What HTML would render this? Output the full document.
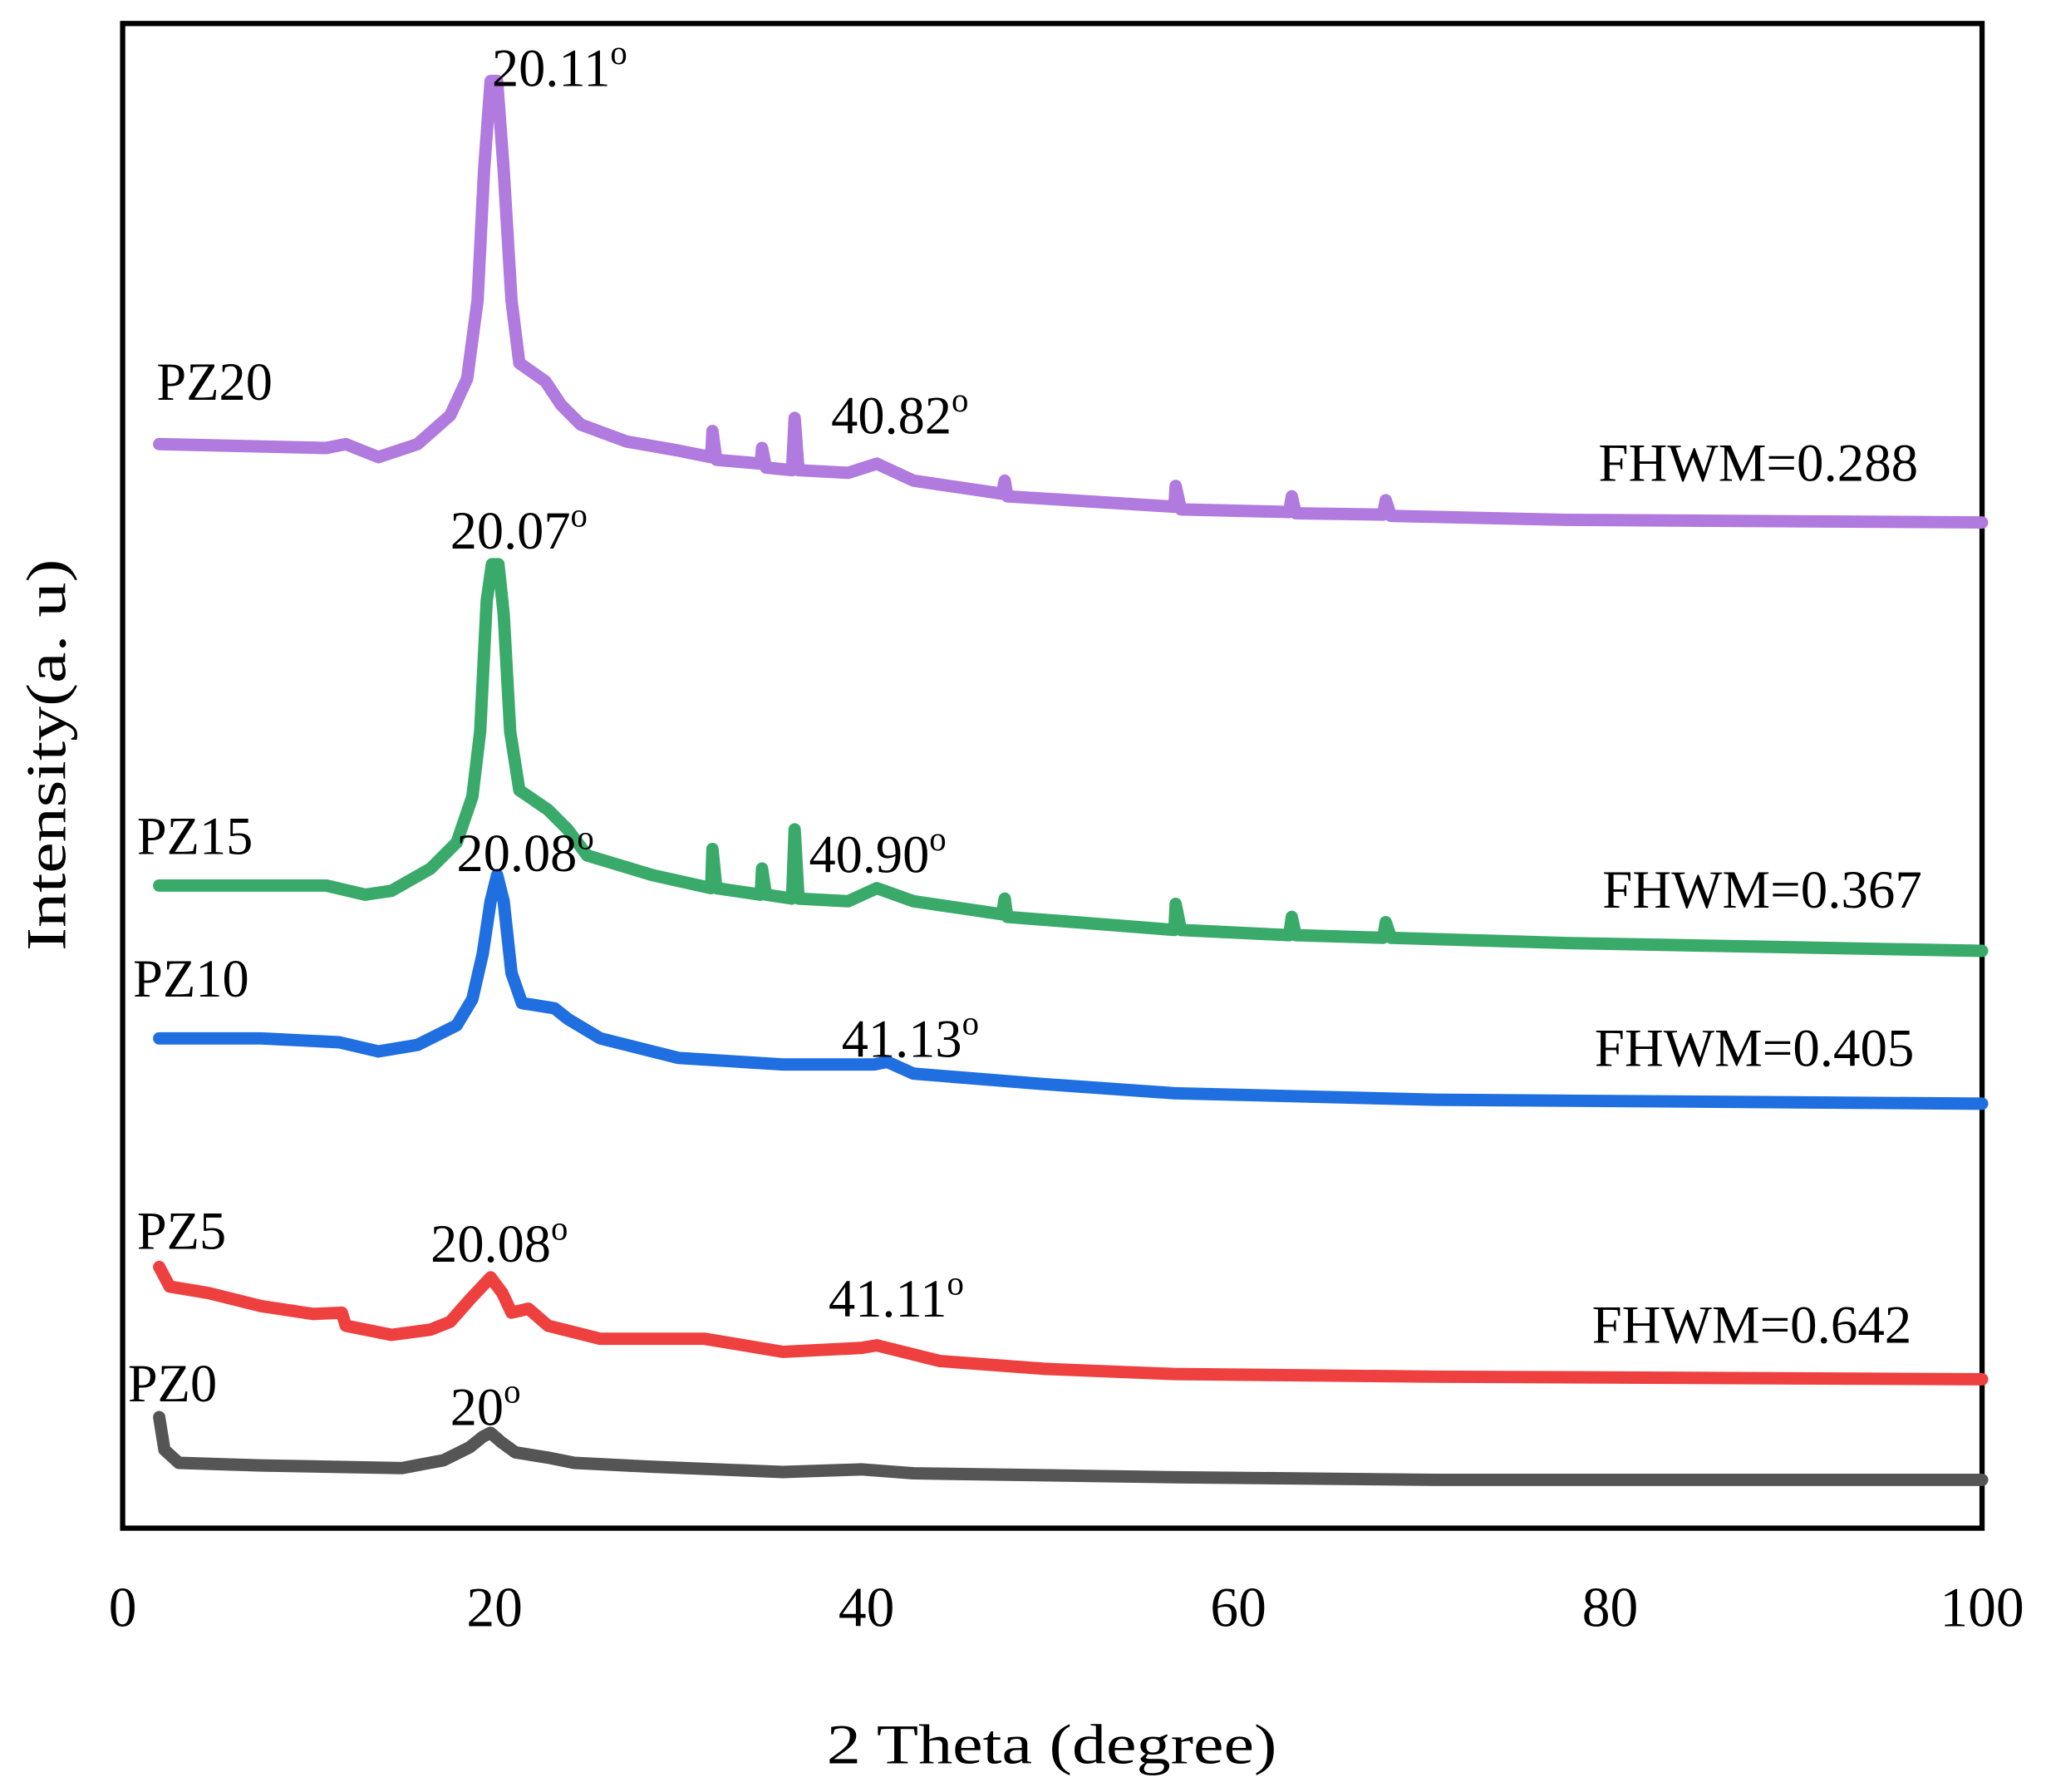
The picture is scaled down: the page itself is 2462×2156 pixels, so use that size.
<!DOCTYPE html>
<html><head><style>body{margin:0;background:#fff}svg{display:block}text{font-family:"Liberation Serif",serif;fill:#000}</style></head>
<body>
<svg width="2462" height="2156" viewBox="0 0 1568 1372" preserveAspectRatio="none" xmlns="http://www.w3.org/2000/svg">
<rect x="94" y="18" width="1425" height="1152" fill="none" stroke="#000" stroke-width="4"/>
<g fill="none" stroke-width="9.5" stroke-linejoin="round" stroke-linecap="round">
<polyline stroke="#555" points="122,1085 126,1110 137,1120 200,1122 308,1124 340,1118 360,1108 370,1100 376,1097 384,1104 395,1112 420,1116 440,1120 500,1123 600,1127 660,1125 700,1128 900,1131 1100,1133 1519,1133"/>
<polyline stroke="#ef4040" points="122,970 130,985 160,990 200,1000 240,1006 262,1005 265,1015 300,1022 330,1018 345,1012 360,995 376,978 385,990 392,1005 405,1002 420,1015 460,1025 500,1025 540,1025 600,1035 660,1032 672,1030 720,1042 800,1048 900,1052 1100,1054 1519,1056"/>
<polyline stroke="#1f6fe0" points="122,795 200,795 260,798 290,805 320,800 350,785 362,765 370,730 376,690 381,670 386,690 392,745 400,768 425,772 435,780 460,795 520,810 600,815 640,815 670,815 680,813 700,822 800,830 900,837 1100,842 1519,845"/>
<polyline stroke="#3aaa6a" points="122,678 250,678 280,685 300,682 330,665 350,645 362,610 368,560 373,460 377,432 382,432 386,470 391,560 398,605 420,620 435,635 450,655 500,670 545,680 546,650 549,680 583,685 584,665 587,685 607,688 609,635 612,688 650,690 672,680 700,690 768,700 770,688 772,702 900,712 901,692 905,712 988,716 990,702 993,716 1060,718 1062,706 1066,718 1200,722 1519,728"/>
<polyline stroke="#b07ade" points="122,340 250,343 265,340 290,350 320,340 345,318 358,290 366,230 371,130 376,62 381,62 386,130 392,230 398,278 418,292 430,310 445,325 480,338 520,345 545,350 546,330 549,352 583,355 584,343 587,358 607,360 609,320 612,360 650,362 672,355 700,368 768,378 770,368 772,380 900,388 901,372 905,390 988,392 990,380 993,393 1060,394 1062,383 1066,395 1200,398 1519,400"/>
</g>
<g font-size="43" text-anchor="middle">
<text x="94" y="1245">0</text><text x="379" y="1245">20</text><text x="664" y="1245">40</text>
<text x="949" y="1245">60</text><text x="1234" y="1245">80</text><text x="1519" y="1245">100</text>
<text x="806" y="1350" textLength="345" lengthAdjust="spacingAndGlyphs">2 Theta (degree)</text>
<text transform="translate(50,578) rotate(-90)" textLength="300" lengthAdjust="spacingAndGlyphs">Intensity(a. u)</text>
</g>
<g font-size="41">
<text x="377" y="66">20.11<tspan font-size="26" dy="-17">o</tspan></text>
<text x="120" y="306">PZ20</text>
<text x="637" y="332">40.82<tspan font-size="26" dy="-17">o</tspan></text>
<text x="1225" y="368" textLength="245" lengthAdjust="spacingAndGlyphs">FHWM=0.288</text>
<text x="345" y="420">20.07<tspan font-size="26" dy="-17">o</tspan></text>
<text x="105" y="654">PZ15</text>
<text x="350" y="667">20.08<tspan font-size="26" dy="-17">o</tspan></text>
<text x="620" y="668">40.90<tspan font-size="26" dy="-17">o</tspan></text>
<text x="1228" y="695" textLength="245" lengthAdjust="spacingAndGlyphs">FHWM=0.367</text>
<text x="102" y="763">PZ10</text>
<text x="645" y="809">41.13<tspan font-size="26" dy="-17">o</tspan></text>
<text x="1222" y="816" textLength="245" lengthAdjust="spacingAndGlyphs">FHWM=0.405</text>
<text x="105" y="956">PZ5</text>
<text x="330" y="966">20.08<tspan font-size="26" dy="-17">o</tspan></text>
<text x="635" y="1008">41.11<tspan font-size="26" dy="-17">o</tspan></text>
<text x="1220" y="1028" textLength="245" lengthAdjust="spacingAndGlyphs">FHWM=0.642</text>
<text x="98" y="1073">PZ0</text>
<text x="345" y="1091">20<tspan font-size="26" dy="-17">o</tspan></text>
</g>
</svg>
</body></html>
